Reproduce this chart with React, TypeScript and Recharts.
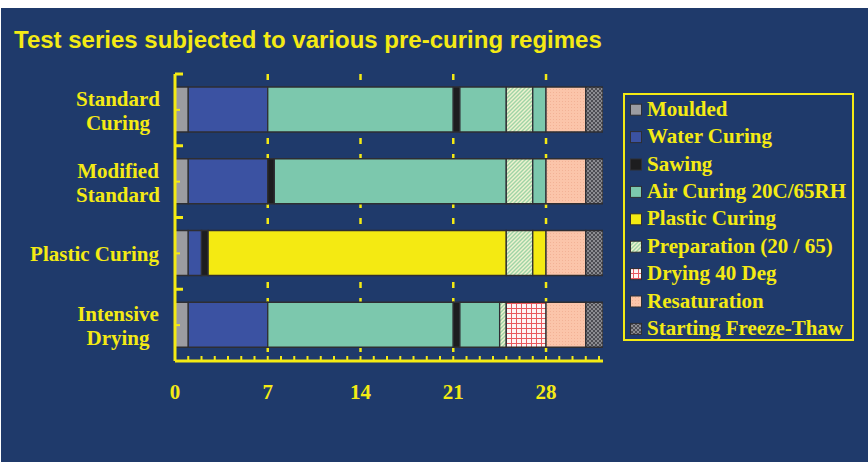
import React from 'react';
import { BarChart, Bar, XAxis, YAxis, CartesianGrid, Cell } from 'recharts';

// Regimes (rows), top to bottom
const regimes = ['Standard\nCuring', 'Modified\nStandard', 'Plastic Curing', 'Intensive\nDrying'];

// Stage names, in legend order
const stages = [
  'Moulded',
  'Water Curing',
  'Sawing',
  'Air Curing 20C/65RH',
  'Plastic Curing',
  'Preparation (20 / 65)',
  'Drying 40 Deg',
  'Resaturation',
  'Starting Freeze-Thaw',
];

// Each regime: sequence of stages and how many days each lasts
const standardSequence = ['Moulded', 'Water Curing', 'Air Curing 20C/65RH', 'Sawing', 'Air Curing 20C/65RH', 'Preparation (20 / 65)', 'Air Curing 20C/65RH', 'Resaturation', 'Starting Freeze-Thaw'];
const standardDays = [1, 6, 14, 0.5, 3.5, 2, 1, 3, 1.3];

const modifiedSequence = ['Moulded', 'Water Curing', 'Sawing', 'Air Curing 20C/65RH', 'Preparation (20 / 65)', 'Air Curing 20C/65RH', 'Resaturation', 'Starting Freeze-Thaw'];
const modifiedDays = [1, 6, 0.5, 17.5, 2, 1, 3, 1.3];

const plasticSequence = ['Moulded', 'Water Curing', 'Sawing', 'Plastic Curing', 'Preparation (20 / 65)', 'Plastic Curing', 'Resaturation', 'Starting Freeze-Thaw'];
const plasticDays = [1, 1, 0.5, 22.5, 2, 1, 3, 1.3];

const dryingSequence = ['Moulded', 'Water Curing', 'Air Curing 20C/65RH', 'Sawing', 'Air Curing 20C/65RH', 'Preparation (20 / 65)', 'Drying 40 Deg', 'Resaturation', 'Starting Freeze-Thaw'];
const dryingDays = [1, 6, 14, 0.5, 3, 0.5, 3, 3, 1.3];

// Axis ticks (days)
const dayTicks = [0, 1, 2, 3, 4, 5, 6, 7, 8, 9, 10, 11, 12, 13, 14, 15, 16, 17, 18, 19, 20, 21, 22, 23, 24, 25, 26, 27, 28, 29, 30, 31, 32];
const labelledDays = [0, 7, 14, 21, 28];

const sequences = [standardSequence, modifiedSequence, plasticSequence, dryingSequence];
const durations = [standardDays, modifiedDays, plasticDays, dryingDays];

const rows = regimes.map((name, i) => {
  const row: Record<string, any> = { name };
  durations[i].forEach((d, k) => {
    row[`seg${k}`] = d;
  });
  return row;
});
const slotCount = Math.max(...durations.map((d) => d.length));
const totalDays = Math.max(...durations.map((d) => d.reduce((a, b) => a + b, 0)));

const BG = '#1f3a6b';
const YELLOW = '#f4ea14';
const SERIF = '"Liberation Serif", "Times New Roman", serif';

const stageFill: Record<string, string> = {
  'Moulded': '#9c9ca1',
  'Water Curing': '#3b52a2',
  'Sawing': '#1d1d1f',
  'Air Curing 20C/65RH': '#7cc8ad',
  'Plastic Curing': '#f4ea12',
  'Preparation (20 / 65)': 'url(#pat-prep)',
  'Drying 40 Deg': 'url(#pat-dry)',
  'Resaturation': 'url(#pat-resat)',
  'Starting Freeze-Thaw': 'url(#pat-ft)',
};

function Patterns() {
  return (
    <defs>
      <pattern id="pat-prep" patternUnits="userSpaceOnUse" width="4" height="4">
        <rect width="4" height="4" fill="#eef2cf" />
        <path d="M-1,1 l2,-2 M0,4 l4,-4 M3,5 l2,-2" stroke="#9fd4a6" strokeWidth="1.4" />
      </pattern>
      <pattern id="pat-dry" patternUnits="userSpaceOnUse" width="5" height="5">
        <rect width="5" height="5" fill="#fdf4f4" />
        <path d="M0,0.5 H5 M0.5,0 V5" stroke="#e8595e" strokeWidth="1" />
      </pattern>
      <pattern id="pat-resat" patternUnits="userSpaceOnUse" width="3" height="3">
        <rect width="3" height="3" fill="#fbc5aa" />
        <rect width="1" height="1" fill="#f2b296" />
      </pattern>
      <pattern id="pat-ft" patternUnits="userSpaceOnUse" width="4" height="4">
        <rect width="4" height="4" fill="#4d4d53" />
        <rect width="2" height="2" fill="#8c8c91" />
        <rect x="2" y="2" width="2" height="2" fill="#8c8c91" />
      </pattern>
    </defs>
  );
}

const LABEL_GAP = 16;

// Category labels (some on two centred lines) plus the tick mark at the band's top edge
function RegimeTick({ x, y, payload, height, visibleTicksCount }: any) {
  const lines = String(payload.value).split('\n');
  const style = { fill: YELLOW, fontFamily: SERIF, fontWeight: 'bold' as const, fontSize: 21 };
  const band = height / (visibleTicksCount || regimes.length);
  const axisX = x + LABEL_GAP;
  return (
    <g>
      <line x1={axisX} x2={axisX + 8} y1={y - band / 2} y2={y - band / 2} stroke={YELLOW} strokeWidth={3} />
      {lines.length === 1 ? (
        <text x={x} y={y + 7.5} textAnchor="end" style={style}>
          {lines[0]}
        </text>
      ) : (
        lines.map((line, j) => (
          <text key={j} x={x - 41} y={y - 4 + j * 24} textAnchor="middle" style={style}>
            {line}
          </text>
        ))
      )}
    </g>
  );
}

function StageLegend() {
  return (
    <svg width={231} height={248} style={{ position: 'absolute', left: 622, top: 85 }}>
      <rect x={1} y={1} width={229} height={246} fill="none" stroke={YELLOW} strokeWidth={2} />
      {stages.map((s, i) => {
        const base = 22.7 + i * 27.4;
        return (
          <g key={s}>
            <rect x={7.5} y={base - 11.5} width={11} height={11} fill={stageFill[s]} stroke="#2e2e33" strokeWidth={1} />
            <text x={24} y={base} fill={YELLOW} fontFamily={SERIF} fontWeight="bold" fontSize={21}>
              {s}
            </text>
          </g>
        );
      })}
    </svg>
  );
}

export default function App() {
  return (
    <div style={{ position: 'absolute', left: 1, top: 8, width: 867, height: 454, background: BG }}>
      <BarChart
        width={867}
        height={454}
        layout="vertical"
        data={rows}
        margin={{ top: 66, right: 265, bottom: 51, left: 10 }}
        barSize={45}
      >
        <Patterns />
        <CartesianGrid
          horizontal={false}
          stroke={YELLOW}
          strokeWidth={2.5}
          strokeDasharray="6 10"
          verticalCoordinatesGenerator={({ xAxis, offset }: any) =>
            labelledDays.slice(1).map((d) =>
              xAxis && typeof xAxis.scale === 'function'
                ? xAxis.scale(d)
                : offset.left + (d / totalDays) * offset.width
            )
          }
        />
        <XAxis
          type="number"
          domain={[0, totalDays]}
          ticks={dayTicks}
          interval={0}
          tickFormatter={(d: number) => (labelledDays.includes(d) ? String(d) : '')}
          allowDataOverflow
          height={50}
          tickSize={-5}
          tickMargin={28}
          stroke={YELLOW}
          axisLine={{ stroke: YELLOW, strokeWidth: 3 }}
          tickLine={{ stroke: YELLOW, strokeWidth: 2 }}
          tick={{ fill: YELLOW, fontFamily: SERIF, fontWeight: 'bold', fontSize: 21 }}
        />
        <YAxis
          dataKey="name"
          type="category"
          width={164}
          interval={0}
          tickSize={-5}
          tickMargin={LABEL_GAP + 5}
          stroke={YELLOW}
          axisLine={{ stroke: YELLOW, strokeWidth: 3 }}
          tickLine={{ stroke: YELLOW, strokeWidth: 2 }}
          tick={<RegimeTick />}
        />
        {Array.from({ length: slotCount }, (_, k) => (
          <Bar
            key={k}
            dataKey={`seg${k}`}
            stackId="a"
            isAnimationActive={false}
            stroke="#2e2e33"
            strokeWidth={1.3}
          >
            {rows.map((_, i) => (
              <Cell key={i} fill={stageFill[sequences[i][k]] || 'none'} />
            ))}
          </Bar>
        ))}
      </BarChart>
      <div
        style={{
          position: 'absolute',
          left: 13,
          top: 20,
          lineHeight: '24px',
          fontFamily: '"Liberation Sans", Arial, sans-serif',
          fontWeight: 'bold',
          fontSize: 24,
          color: YELLOW,
          whiteSpace: 'nowrap',
        }}
      >
        Test series subjected to various pre-curing regimes
      </div>
      <StageLegend />
    </div>
  );
}
